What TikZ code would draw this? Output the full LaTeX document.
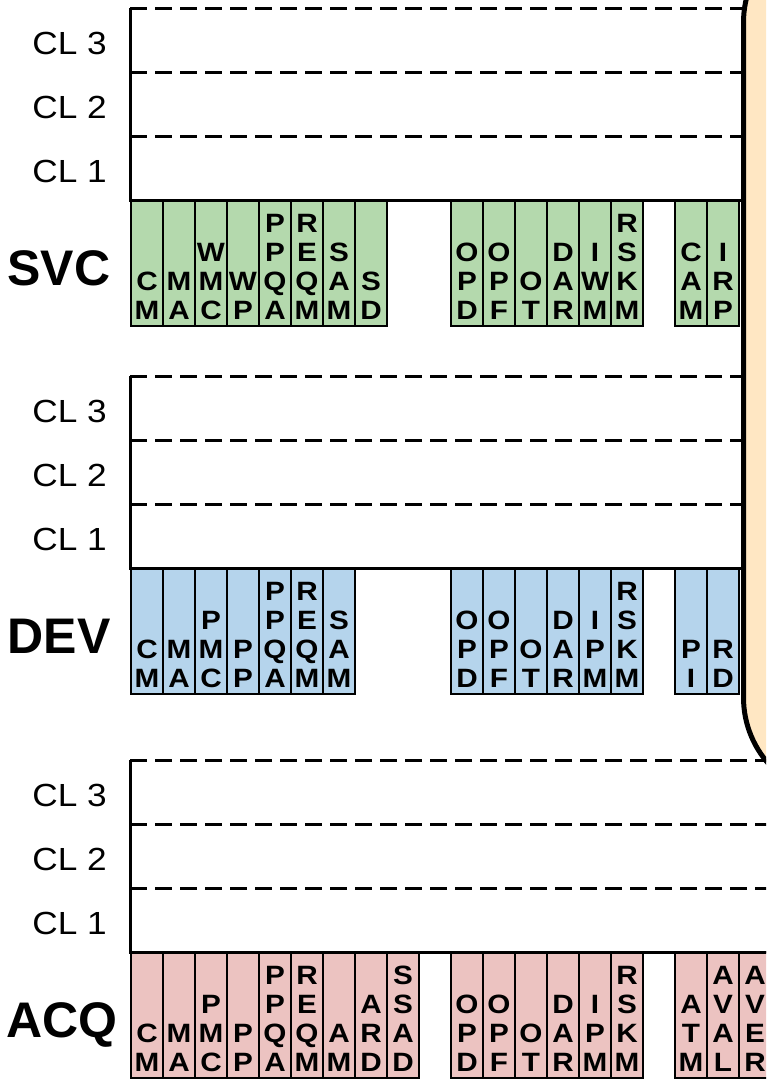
\documentclass[tikz,border=0pt]{standalone}
\usepackage{fontspec}
\setmainfont{Liberation Sans}
\usetikzlibrary{calc}
\definecolor{svcfill}{HTML}{B4D9AD}
\definecolor{devfill}{HTML}{B5D4EC}
\definecolor{acqfill}{HTML}{ECC3C1}
\definecolor{notefill}{HTML}{FFE7C3}
\tikzset{
  pabox/.style={draw=black, line width=1.8pt, minimum width=32pt, minimum height=126pt,
    anchor=north west, inner sep=0pt, outer sep=0pt},
  paletter/.style={anchor=base, inner sep=0pt, font=\fontsize{26.5}{26.5}\selectfont\bfseries},
  dashline/.style={line width=3pt, dash pattern=on 17pt off 8pt},
  solidline/.style={line width=3pt, line join=miter},
  cllabel/.style={anchor=base east, inner sep=0pt, font=\fontsize{32}{32}\selectfont},
  arealabel/.style={anchor=base, inner sep=0pt, font=\fontsize{50}{50}\selectfont\bfseries},
  notebox/.style={draw=black, line width=5pt, fill=notefill, rounded corners=100pt,
    minimum width=220pt, minimum height=875pt, anchor=north west, inner sep=0pt},
}
% one column: name, x-left, y-top, fill, letters top-to-bottom
\newcommand\pacol[5]{%
  \node[pabox, fill=#4] (#1) at ({#2},{#3}) {};
  \edef\palist{#5}%
  \foreach \L [count=\n] in \palist {\xdef\pacount{\n}}%
  \foreach \L [count=\i] in \palist {%
    \node[paletter] (#1-\i) at ($(#1.south)+(0,{-7-(\pacount-\i)*28.7})$) {\scalebox{1.12}[1]{\L}};
  }%
}
% one group of columns: prefix, x-start, y-top, fill, list of columns
\newcommand\pagroup[5]{%
  \foreach \cols [count=\k] in {#5} {%
    \pacol{#1\k}{#2+(\k-1)*32}{#3}{#4}{\cols}%
  }%
}
% one panel of three dashed rows: prefix, y-top, x-right
\newcommand\papanel[3]{%
  \coordinate (#1-tl) at (130,#2);
  \coordinate (#1-tr) at (#3,#2);
  \coordinate (#1-al) at (130,{#2+64});
  \coordinate (#1-ar) at (#3,{#2+64});
  \coordinate (#1-bl) at (130,{#2+128});
  \coordinate (#1-br) at (#3,{#2+128});
  \coordinate (#1-cl) at (130,{#2+192});
  \coordinate (#1-cr) at (#3,{#2+192});
  \draw[dashline] (#1-tl) -- (#1-tr);
  \draw[dashline] (#1-al) -- (#1-ar);
  \draw[dashline] (#1-bl) -- (#1-br);
  \draw[solidline] (#1-tl) -- (#1-cl) -- (#1-cr);
  \node[cllabel] (#1-cl3) at (107,{#2+46}) {\scalebox{1.1}[1]{CL 3}};
  \node[cllabel] (#1-cl2) at (107,{#2+110}) {\scalebox{1.1}[1]{CL 2}};
  \node[cllabel] (#1-cl1) at (107,{#2+174}) {\scalebox{1.1}[1]{CL 1}};
}
\begin{document}
\begin{tikzpicture}[x=1pt,y=-1pt]
\useasboundingbox (0,0) rectangle (766,1079);
\clip (0,0) rectangle (766,1079);
\fill[white] (0,0) rectangle (766,1079);

% SVC
\pagroup{svca}{131}{200}{svcfill}{{C,M},{M,A},{W,M,C},{W,P},{P,P,Q,A},{R,E,Q,M},{S,A,M},{S,D}}
\pagroup{svcb}{451}{200}{svcfill}{{O,P,D},{O,P,F},{O,T},{D,A,R},{I,W,M},{R,S,K,M}}
\pagroup{svcc}{675}{200}{svcfill}{{C,A,M},{I,R,P}}
\papanel{svc}{8}{745}
\node[arealabel] (svclabel) at (59,285) {SVC};

% DEV
\pagroup{deva}{131}{568}{devfill}{{C,M},{M,A},{P,M,C},{P,P},{P,P,Q,A},{R,E,Q,M},{S,A,M}}
\pagroup{devb}{451}{568}{devfill}{{O,P,D},{O,P,F},{O,T},{D,A,R},{I,P,M},{R,S,K,M}}
\pagroup{devc}{675}{568}{devfill}{{P,I},{R,D}}
\papanel{dev}{376}{745}
\node[arealabel] (devlabel) at (59,653) {DEV};

% ACQ
\pagroup{acqa}{131}{952}{acqfill}{{C,M},{M,A},{P,M,C},{P,P},{P,P,Q,A},{R,E,Q,M},{A,M},{A,R,D},{S,S,A,D}}
\pagroup{acqb}{451}{952}{acqfill}{{O,P,D},{O,P,F},{O,T},{D,A,R},{I,P,M},{R,S,K,M}}
\pagroup{acqc}{675}{952}{acqfill}{{A,T,M},{A,V,A,L},{A,V,E,R}}
\papanel{acq}{760}{770}
\node[arealabel] (acqlabel) at (62,1037) {ACQ};

% note box on the right
\node[notebox] (note) at (741,-80) {};
\end{tikzpicture}
\end{document}
